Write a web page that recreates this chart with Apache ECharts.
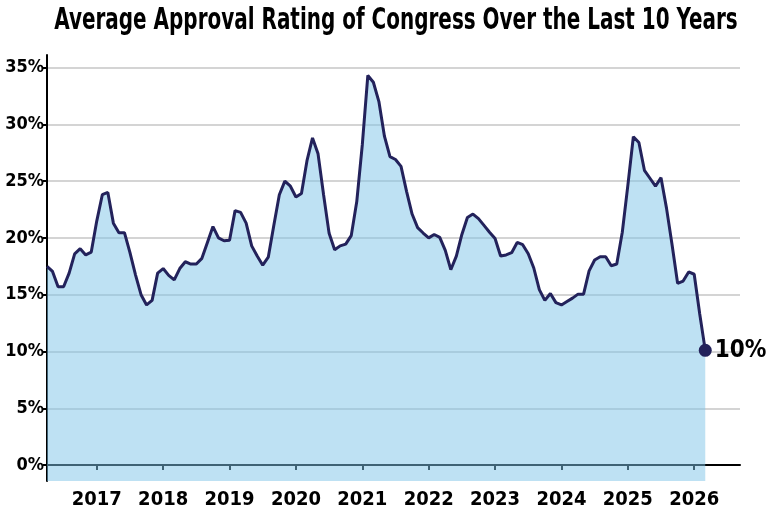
<!DOCTYPE html>
<html>
<head>
<meta charset="utf-8">
<script src="https://cdn.jsdelivr.net/npm/echarts@6/dist/echarts.min.js"></script>
<style>
  html, body { margin: 0; padding: 0; background: #fff; }
  #chart { width: 768px; height: 521px; }
</style>
</head>
<body>
<div id="chart"></div>
<script>
// monthly average, April 2016 .. March 2026
const startYear = 2016.25;
const approval = [
  17.5, 17.05, 15.7, 15.7, 16.9, 18.6, 19.05, 18.5, 18.75,
  21.5, 23.8, 24.0, 21.3, 20.46, 20.46, 18.7, 16.75, 15.0, 14.1, 14.5, 16.9, 17.3,
  16.7, 16.3, 17.3, 17.9, 17.7, 17.7, 18.2, 19.6, 21.0, 20.0, 19.75, 19.8,
  22.4, 22.25, 21.3, 19.3, 18.4, 17.6, 18.3, 21.1, 23.8, 25.0, 24.55, 23.6,
  23.9, 26.8, 28.8, 27.4, 23.8, 20.4, 18.95, 19.3, 19.45, 20.2, 23.2, 28.2,
  34.3, 33.7, 32.0, 28.95, 27.15, 26.9, 26.3, 24.1, 22.1, 20.9, 20.43, 20.0,
  20.3, 20.05, 18.9, 17.2, 18.4, 20.3, 21.8, 22.1, 21.7, 21.1, 20.5, 19.95,
  18.4, 18.5, 18.7, 19.6, 19.4, 18.6, 17.35, 15.45, 14.5, 15.1, 14.3, 14.1,
  14.4, 14.7, 15.05, 15.05, 17.1, 18.05, 18.34, 18.34, 17.55, 17.7, 20.5, 24.6,
  28.9, 28.4, 25.95, 25.25, 24.55, 25.3, 22.6, 19.4, 16.0, 16.2, 17.0, 16.8,
  13.3, 10.1
];
const yearTicks = [2017, 2018, 2019, 2020, 2021, 2022, 2023, 2024, 2025, 2026];
const pctTicks = [0, 5, 10, 15, 20, 25, 30, 35];
const titleText = 'Average Approval Rating of Congress Over the Last 10 Years';

const points = approval.map((v, i) => [startYear + i / 12, v]);
const last = points[points.length - 1];

const font = '"DejaVu Sans Condensed", "Liberation Sans Narrow", sans-serif';
const chart = echarts.init(document.getElementById('chart'));

chart.setOption({
  animation: false,
  // title drawn as graphic text so it can be squeezed like the condensed face
  graphic: [{
    type: 'text',
    x: 396,
    y: 6,
    scaleX: 0.74,
    style: {
      text: titleText,
      textAlign: 'center',
      textVerticalAlign: 'top',
      font: 'bold 30px ' + font,
      fill: '#000'
    }
  }],
  grid: { left: 47, right: 28, top: 55, bottom: 40, outerBoundsMode: 'none' },
  xAxis: {
    type: 'value',
    min: startYear,
    max: 2026.69,
    axisLine: { show: true, lineStyle: { color: '#000', width: 2 } },
    axisTick: { show: true, customValues: yearTicks, length: 5, lineStyle: { color: '#000', width: 2 } },
    axisLabel: {
      customValues: yearTicks,
      formatter: v => String(Math.round(v)),
      fontFamily: font, fontWeight: 'bold', fontSize: 20, color: '#000', margin: 9
    },
    splitLine: { show: false }
  },
  yAxis: {
    type: 'value',
    min: -1.4,
    max: 36.1,
    axisLine: { show: true, lineStyle: { color: '#000', width: 2 } },
    axisTick: { show: true, customValues: pctTicks, length: 4, lineStyle: { color: '#000', width: 2 } },
    axisLabel: {
      customValues: pctTicks,
      formatter: v => Math.round(v) + '%',
      fontFamily: font, fontWeight: 'bold', fontSize: 18, color: '#000', margin: 3
    },
    splitLine: { show: true, lineStyle: { color: '#d4d4d4', width: 2 } }
  },
  series: [
    {
      type: 'line',
      data: points,
      symbol: 'none',
      lineStyle: { color: '#23225b', width: 3 },
      areaStyle: { color: 'rgba(125,195,232,0.5)', opacity: 1, origin: 'start' },
      z: 3
    },
    {
      type: 'scatter',
      data: [last],
      symbolSize: 13,
      itemStyle: { color: '#23225b', opacity: 1 },
      label: {
        show: true,
        position: 'right',
        distance: 3,
        formatter: p => Math.round(p.value[1]) + '%',
        fontFamily: font, fontWeight: 'bold', fontSize: 24, color: '#000'
      },
      z: 4
    }
  ]
});
</script>
</body>
</html>
